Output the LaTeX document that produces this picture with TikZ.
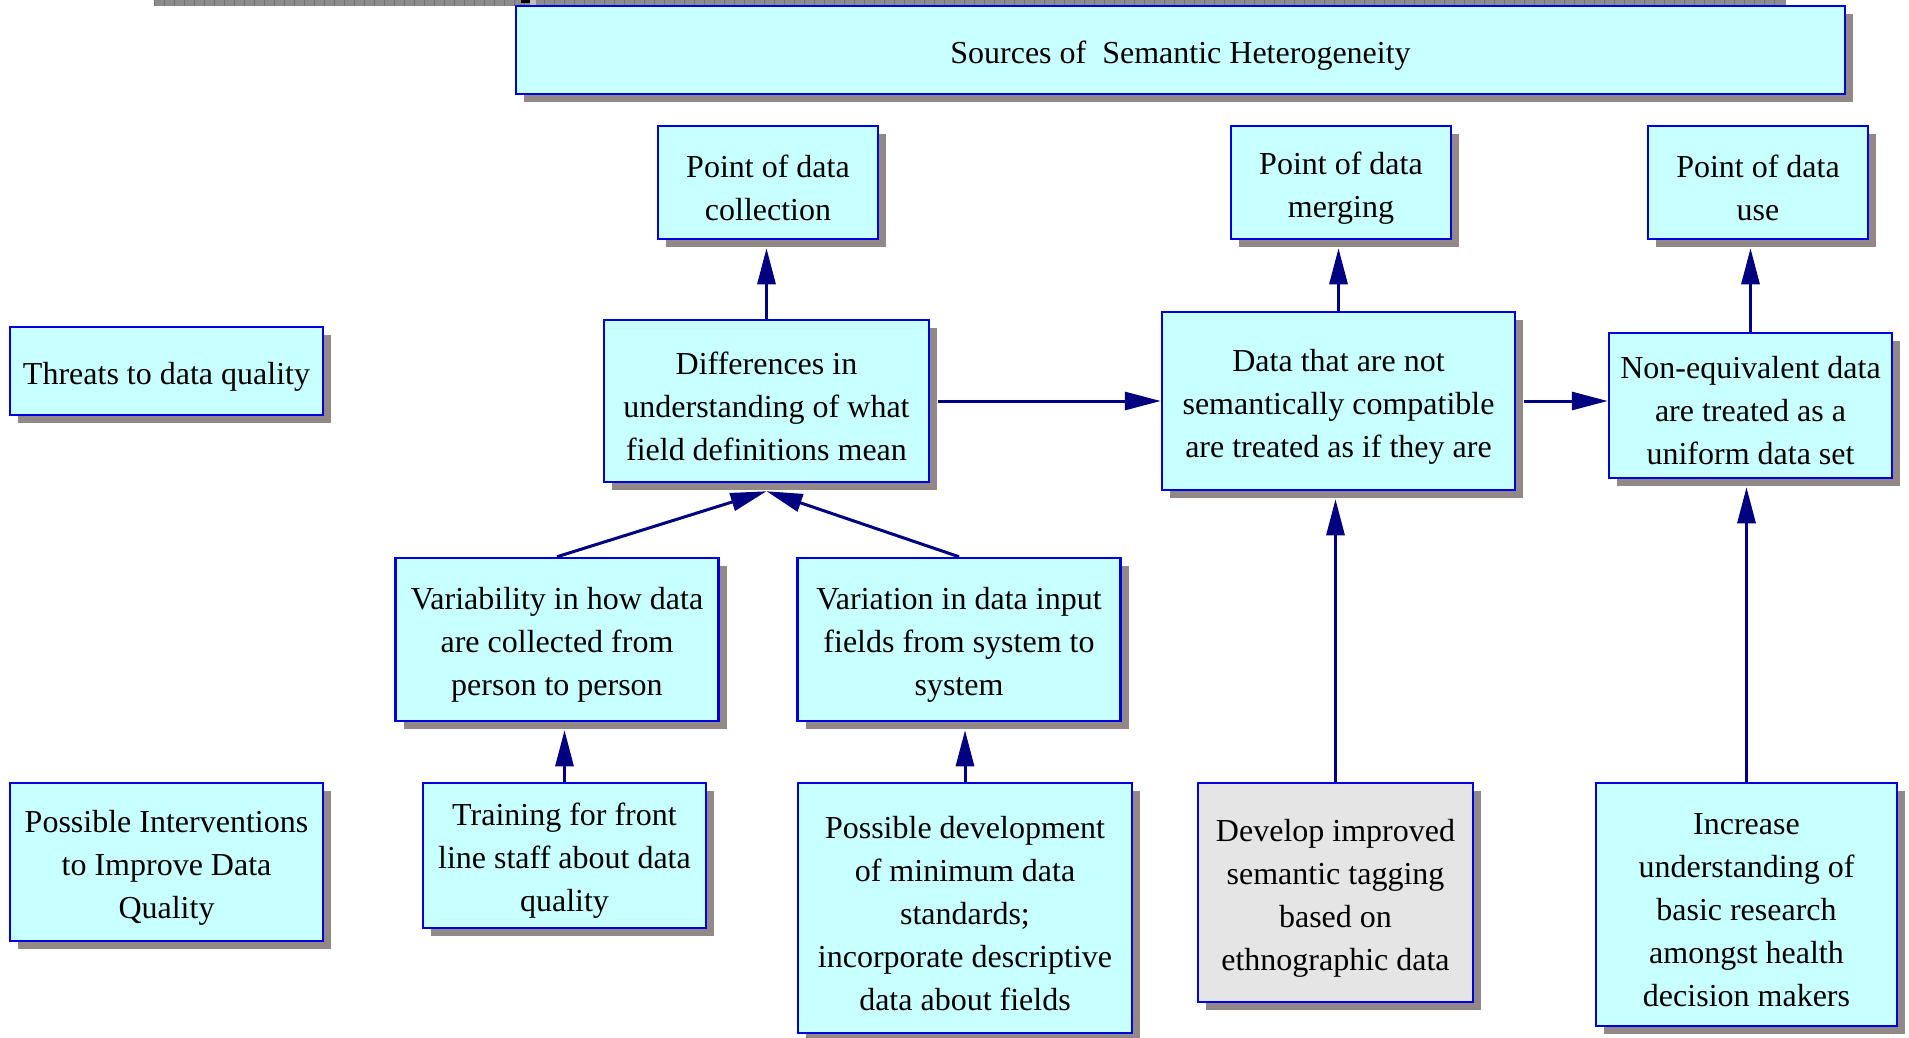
\documentclass[tikz,border=0pt]{standalone}
\usepackage{fontspec}
\setmainfont{Liberation Serif}
\usetikzlibrary{arrows.meta,shadows,calc}
\definecolor{boxfill}{RGB}{200,255,255}
\definecolor{boxline}{RGB}{0,0,225}
\definecolor{shadowc}{RGB}{146,136,136}
\definecolor{arrowc}{RGB}{0,0,128}
\definecolor{grayfill}{RGB}{229,229,229}
\definecolor{stripc}{RGB}{140,140,140}
\newcommand\mystrut{\rule{0pt}{33pt}}
\begin{document}
\begin{tikzpicture}[x=1pt,y=-1pt,
  box/.style={draw=boxline, line width=2.5pt, fill=boxfill, align=center, inner sep=0pt,
    font=\fontsize{32}{43}\selectfont,
    general shadow={fill=shadowc, shadow xshift=8pt, shadow yshift=-8pt}},
  arr/.style={draw=arrowc, line width=3pt, -{Triangle[length=36pt,width=18pt]}}]
\useasboundingbox[fill=white] (0,0) rectangle (1909,1037);
% top strip
\fill[stripc] (154,0) rectangle (1786,6);
\foreach \i in {0,...,162} \draw[black!55, line width=0.8pt] (154+\i*10,0) -- ++(0,6);
\fill[black] (521,0) rectangle (530,3);
\fill[black!25] (530,0) rectangle (536,6);

% nodes
\node[box, minimum width=1329pt, minimum height=88pt] (title) at (1180.5,50) {\mystrut Sources of\ \ Semantic Heterogeneity};
\node[box, minimum width=220pt, minimum height=113pt] (coll) at (768,182.5) {\mystrut Point of data\\collection};
\node[box, minimum width=220pt, minimum height=113pt] (merg) at (1341,182.5) {\mystrut Point of data\\merging};
\node[box, minimum width=220pt, minimum height=113pt] (use) at (1758,182.5) {\mystrut Point of data\\use};
\node[box, minimum width=313pt, minimum height=88pt] (threats) at (166.5,371) {\mystrut Threats to data quality};
\node[box, minimum width=325pt, minimum height=162pt] (diff) at (766.5,401) {\mystrut Differences in\\understanding of what\\field definitions mean};
\node[box, minimum width=353pt, minimum height=178pt] (datanot) at (1338.5,401) {\mystrut Data that are not\\semantically compatible\\are treated as if they are};
\node[box, minimum width=283pt, minimum height=145pt] (noneq) at (1750.5,405.5) {\mystrut Non-equivalent data\\are treated as a\\uniform data set};
\node[box, minimum width=323pt, minimum height=163pt] (varib) at (557,639.5) {\mystrut Variability in how data\\are collected from\\person to person};
\node[box, minimum width=323pt, minimum height=163pt] (variat) at (959,639.5) {\mystrut Variation in data input\\fields from system to\\system};
\node[box, minimum width=313pt, minimum height=158pt] (interv) at (166.5,862) {\mystrut Possible Interventions\\to Improve Data\\Quality};
\node[box, minimum width=283pt, minimum height=145pt] (train) at (564.5,855.5) {\mystrut Training for front\\line staff about data\\quality};
\node[box, minimum width=334pt, minimum height=250pt] (dev) at (965,908) {\mystrut Possible development\\of minimum data\\standards;\\incorporate descriptive\\data about fields};
\node[box, fill=grayfill, minimum width=275pt, minimum height=219pt] (tag) at (1335.5,892.5) {\mystrut Develop improved\\semantic tagging\\based on\\ethnographic data};
\node[box, minimum width=301pt, minimum height=243pt] (incr) at (1746.5,904.5) {\mystrut Increase\\understanding of\\basic research\\amongst health\\decision makers};

% connectors
\draw[arr] (diff.north) -- ($(diff.north |- coll.south)+(0,8)$);
\draw[arr] (datanot.north) -- ($(datanot.north |- merg.south)+(0,8)$);
\draw[arr] (noneq.north) -- ($(noneq.north |- use.south)+(0,8)$);
\draw[arr] ($(diff.east)+(8,0)$) -- (diff.east -| datanot.west);
\draw[arr] ($(datanot.east)+(8,0)$) -- (datanot.east -| noneq.west);
\draw[arr] (varib.north) -- ($(diff.south)+(0,8)$);
\draw[arr] (variat.north) -- ($(diff.south)+(0,8)$);
\draw[arr] (train.north) -- ($(train.north |- varib.south)+(0,8)$);
\draw[arr] (dev.north) -- ($(dev.north |- variat.south)+(0,8)$);
\draw[arr] (tag.north) -- ($(tag.north |- datanot.south)+(0,8)$);
\draw[arr] (incr.north) -- ($(incr.north |- noneq.south)+(0,8)$);
\end{tikzpicture}
\end{document}
